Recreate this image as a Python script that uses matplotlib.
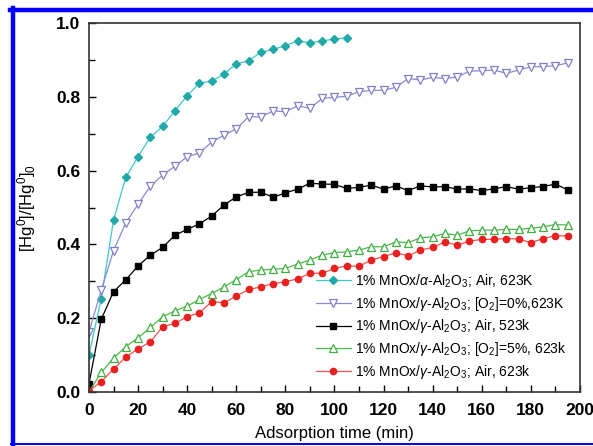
import numpy as np
import matplotlib
matplotlib.use('Agg')
import matplotlib.pyplot as plt
from matplotlib.lines import Line2D
from matplotlib.ticker import MultipleLocator

plt.rcParams['font.family'] = ['Liberation Sans', 'DejaVu Sans']
plt.rcParams['mathtext.fontset'] = 'custom'
plt.rcParams['mathtext.rm'] = 'Liberation Sans'
plt.rcParams['mathtext.it'] = 'Liberation Sans:italic'
plt.rcParams['mathtext.bf'] = 'Liberation Sans:bold'

# adsorption time (min), every 5 min
t_alpha = np.arange(0, 110, 5)
t_gamma = np.arange(0, 200, 5)

alpha_air_623 = [0.100, 0.253, 0.466, 0.582, 0.638, 0.691, 0.720, 0.762, 0.803, 0.837, 0.843,
                 0.862, 0.890, 0.898, 0.921, 0.929, 0.939, 0.952, 0.947, 0.952, 0.957, 0.960]

gamma_o2_0_623 = [0.163, 0.276, 0.383, 0.459, 0.509, 0.558, 0.588, 0.612, 0.638, 0.648, 0.678,
                  0.696, 0.714, 0.746, 0.746, 0.762, 0.760, 0.776, 0.769, 0.796, 0.799, 0.802,
                  0.814, 0.818, 0.818, 0.826, 0.850, 0.846, 0.853, 0.850, 0.854, 0.870, 0.871,
                  0.873, 0.864, 0.873, 0.882, 0.882, 0.885, 0.892]

gamma_air_523 = [0.022, 0.197, 0.272, 0.304, 0.342, 0.371, 0.392, 0.425, 0.441, 0.456, 0.477,
                 0.507, 0.529, 0.541, 0.542, 0.528, 0.540, 0.550, 0.566, 0.564, 0.563, 0.552,
                 0.555, 0.561, 0.550, 0.559, 0.546, 0.559, 0.556, 0.557, 0.550, 0.551, 0.546,
                 0.551, 0.557, 0.550, 0.554, 0.557, 0.564, 0.548]

gamma_o2_5_623 = [0.000, 0.053, 0.092, 0.123, 0.147, 0.175, 0.204, 0.220, 0.233, 0.251, 0.267,
                  0.285, 0.305, 0.326, 0.331, 0.333, 0.335, 0.347, 0.358, 0.371, 0.378, 0.380,
                  0.385, 0.394, 0.394, 0.407, 0.405, 0.418, 0.421, 0.430, 0.425, 0.437, 0.439,
                  0.439, 0.441, 0.441, 0.444, 0.448, 0.454, 0.453]

gamma_air_623 = [0.003, 0.028, 0.062, 0.095, 0.117, 0.136, 0.177, 0.186, 0.204, 0.215, 0.245,
                 0.242, 0.260, 0.278, 0.285, 0.294, 0.299, 0.307, 0.322, 0.322, 0.335, 0.342,
                 0.341, 0.358, 0.367, 0.378, 0.369, 0.385, 0.392, 0.407, 0.398, 0.409, 0.414,
                 0.414, 0.416, 0.415, 0.405, 0.416, 0.424, 0.423]

labels = [r'1% MnOx/$\alpha$-Al$_2$O$_3$; Air, 623K',
          r'1% MnOx/$\gamma$-Al$_2$O$_3$; [O$_2$]=0%,623K',
          r'1% MnOx/$\gamma$-Al$_2$O$_3$; Air, 523k',
          r'1% MnOx/$\gamma$-Al$_2$O$_3$; [O$_2$]=5%, 623k',
          r'1% MnOx/$\gamma$-Al$_2$O$_3$; Air, 623k']

fig = plt.figure(figsize=(5.93, 4.46), dpi=100)
ax = fig.add_axes([0.150, 0.121, 0.828, 0.827])

ax.plot(t_alpha, alpha_air_623, color='#3cc8c8', lw=0.9, marker='D', ms=4,
        mfc='#22a8a8', mec='#22a8a8', label=labels[0])
ax.plot(t_gamma, gamma_o2_0_623, color='#8a8ad0', lw=0.9, marker='v', ms=5.5,
        mfc='white', mec='#8080c8', mew=0.9, label=labels[1])
ax.plot(t_gamma, gamma_air_523, color='black', lw=0.9, marker='s', ms=4,
        mfc='black', mec='black', label=labels[2])
ax.plot(t_gamma, gamma_o2_5_623, color='#4cb84c', lw=0.9, marker='^', ms=5.5,
        mfc='white', mec='#40b040', mew=0.9, label=labels[3])
ax.plot(t_gamma, gamma_air_623, color='#f05050', lw=0.9, marker='o', ms=4.5,
        mfc='#e82020', mec='#e82020', label=labels[4])

ax.set_xlim(0, 200)
ax.set_ylim(0, 1.0)
ax.xaxis.set_major_locator(MultipleLocator(20))
ax.xaxis.set_minor_locator(MultipleLocator(10))
ax.yaxis.set_major_locator(MultipleLocator(0.2))
ax.yaxis.set_minor_locator(MultipleLocator(0.1))
ax.yaxis.set_major_formatter(matplotlib.ticker.FormatStrFormatter('%.1f'))
ax.tick_params(which='both', direction='in', top=False, right=False, width=1.0)
ax.tick_params(which='major', length=5, labelsize=12.5)
ax.tick_params(axis='x', which='major', pad=8)
ax.tick_params(axis='y', which='major', pad=6)
ax.tick_params(which='minor', length=4)
for lab in ax.get_xticklabels() + ax.get_yticklabels():
    lab.set_fontweight('bold')
for sp in ax.spines.values():
    sp.set_linewidth(1.2)
    sp.set_color('#333333')

ax.set_xlabel('Adsorption time (min)', fontsize=12, labelpad=6)
ax.set_ylabel(r'[Hg$^0$]/[Hg$^0$]$_0$', fontsize=12, labelpad=13)

ax.legend(loc='center left', bbox_to_anchor=(0.462, 0.177), frameon=False, fontsize=10,
          handlelength=2.5, handletextpad=0.3, labelspacing=0.35, borderpad=0,
          borderaxespad=0)

# blue frame around the figure
W, H = 593, 446
fig.add_artist(Line2D([10 / W, 1], [1 - 9.5 / H, 1 - 9.5 / H], color='#0000ff', lw=3.2,
                      transform=fig.transFigure))
fig.add_artist(Line2D([12.5 / W, 12.5 / W], [1 - 8 / H, 1 - 444.5 / H], color='#0000ff', lw=3.2,
                      transform=fig.transFigure))
fig.add_artist(Line2D([11 / W, 1], [1 - 444 / H, 1 - 444 / H], color='#0000ff', lw=1.4,
                      transform=fig.transFigure))

fig.savefig('out.png', dpi=100)
